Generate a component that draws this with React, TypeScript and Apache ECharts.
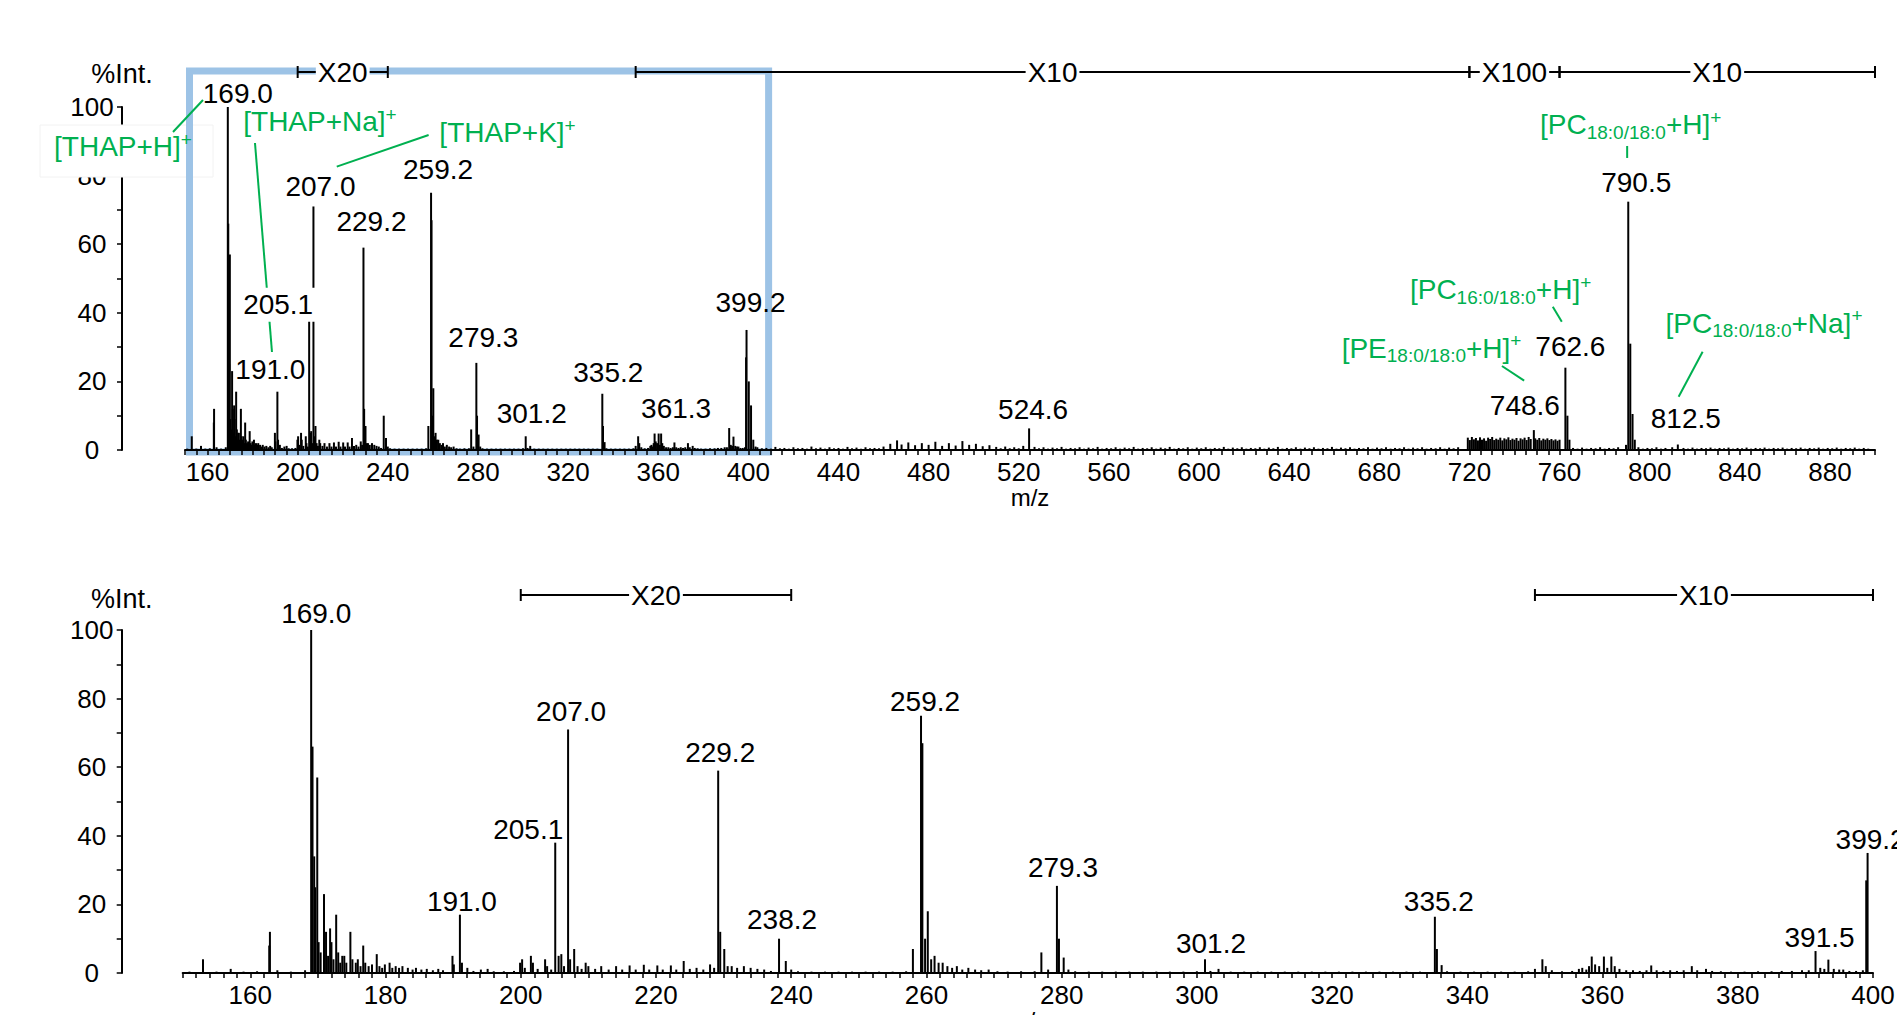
import React, { useEffect, useRef } from 'react';
import * as echarts from 'echarts';

const FONT = '"Liberation Sans", Arial, Helvetica, sans-serif';
const GREEN = '#00B050';
const BLUE = '#9DC3E6';

// ---------- data: [m/z, %Int.] ----------
const lowMassPeaks: [number, number][] = [
  [151.0, 0.4], [153.0, 4.0], [155.0, 0.4], [157.1, 1.2], [159.0, 0.4], [161.0, 0.5], [162.8, 8], [162.9, 12], [164.0, 0.8], [166.0, 0.4], [168.1, 0.8],
  [169.0, 100], [169.2, 66], [169.45, 34], [169.6, 25], [169.9, 57], [170.1, 9], [170.4, 6], [170.9, 23], [171.2, 12], [171.5, 5], [171.8, 13], [172.0, 9],
  [172.3, 4], [172.7, 17], [173.0, 6], [173.3, 3], [173.6, 5], [173.9, 5], [174.2, 3], [174.8, 12], [175.1, 4], [175.6, 3], [175.9, 4], [176.3, 2],
  [176.7, 8], [177.0, 3], [177.5, 2], [178.0, 2.5], [178.7, 5.5], [179.1, 2], [179.5, 1.5], [179.9, 2.5], [180.6, 3], [181.0, 1.5], [181.5, 2], [182.0, 1.5],
  [182.5, 2], [183.3, 1.5], [184.0, 1], [184.5, 1.5], [185.3, 1], [186.1, 1.2], [187.0, 0.8], [187.8, 1.2], [188.5, 0.8], [189.9, 5], [190.1, 2.5],
  [191.0, 17], [191.3, 3], [192.1, 1.5], [193.0, 0.6], [194.1, 1], [195.1, 1.2], [196.0, 0.5], [197.5, 0.5], [199.0, 0.6], [199.9, 3], [200.2, 4],
  [200.6, 1.5], [201.5, 5], [201.8, 3], [202.5, 1.2], [203.6, 4], [203.9, 2], [204.5, 1], [205.1, 38], [205.6, 5], [206.0, 5.5], [206.4, 2], [207.0, 71],
  [207.3, 4], [207.9, 7], [208.4, 2], [209.0, 1.2], [209.6, 3], [210.0, 2], [211.0, 1.2], [211.9, 2], [213.0, 1], [214.1, 2], [215.0, 1], [216.1, 2.2],
  [217.0, 1], [218.2, 2.4], [219.0, 1], [220.2, 2.2], [221.0, 1], [222.2, 2.2], [223.0, 1], [224.1, 3.5], [225.0, 1.2], [226.0, 1.5], [227.0, 1],
  [228.0, 2.5], [228.6, 1.5], [229.2, 59], [229.5, 12], [230.1, 7], [230.6, 2], [231.2, 2], [232.0, 1.5], [233.0, 2], [234.0, 1.5], [235.0, 1.2],
  [236.0, 1], [237.0, 0.6], [238.2, 10], [239.2, 3.5], [240.0, 1], [241.0, 0.5], [243.0, 0.4], [245.0, 0.4], [247.0, 0.4], [249.0, 0.4], [251.0, 0.4],
  [253.0, 0.4], [255.0, 0.4], [257.0, 0.5], [258.0, 7], [259.2, 75], [259.4, 67], [259.8, 10], [260.2, 18], [260.7, 4], [261.2, 5], [261.8, 3],
  [262.4, 3], [263.1, 2], [263.8, 1.5], [264.5, 2], [265.3, 1], [266.2, 1.5], [267.2, 1], [268.1, 0.8], [269.2, 1], [270.5, 0.5], [272.0, 0.4],
  [274.0, 0.5], [276.0, 0.5], [277.0, 6], [278.0, 1], [279.3, 25.4], [279.6, 10], [280.3, 4.5], [281.0, 1], [282.0, 0.5], [284.0, 0.4], [286.0, 0.4],
  [288.0, 0.4], [290.0, 0.4], [292.0, 0.4], [294.0, 0.4], [296.0, 0.4], [298.0, 0.4], [300.0, 0.5], [301.2, 4], [302.0, 0.6], [303.2, 1.2], [305.0, 0.4],
  [307.0, 0.4], [309.0, 0.4], [311.0, 0.4], [313.0, 0.4], [315.0, 0.4], [317.0, 0.4], [319.0, 0.4], [321.0, 0.4], [323.0, 0.4], [325.0, 0.4], [327.0, 0.4],
  [329.0, 0.4], [331.0, 0.4], [333.0, 0.4], [335.2, 16.4], [335.5, 7], [336.2, 2.3], [337.0, 0.5], [339.0, 0.4], [341.0, 0.4], [343.0, 0.4], [345.0, 0.4],
  [347.0, 0.4], [349.0, 0.5], [350.0, 1.2], [351.1, 4], [351.6, 2], [352.5, 0.8], [354.0, 0.5], [355.5, 0.6], [356.5, 1.2], [357.0, 1.5], [357.6, 1],
  [358.0, 2], [358.4, 4.8], [358.9, 2.5], [359.5, 2], [360.2, 4.8], [360.7, 1.5], [361.3, 4.8], [361.8, 2], [362.5, 1.2], [363.5, 0.8], [364.5, 0.8],
  [365.5, 0.6], [366.5, 0.8], [367.2, 2.2], [368.0, 0.8], [369.0, 0.6], [370.0, 0.8], [371.0, 0.6], [372.0, 0.8], [373.2, 2], [374.0, 0.8], [375.3, 1.2],
  [376.2, 0.6], [377.5, 0.5], [379.0, 0.4], [381.0, 0.4], [383.0, 0.5], [385.0, 0.5], [386.5, 0.6], [388.0, 0.6], [389.5, 0.8], [390.5, 0.8], [391.5, 6.4],
  [392.2, 1.5], [392.8, 1.2], [393.4, 3.9], [394.2, 1.2], [395.0, 1], [395.6, 1], [396.5, 0.6], [397.5, 0.6], [398.5, 0.8], [399.0, 27], [399.2, 35],
  [400.2, 20], [401.2, 13], [402.2, 3], [403.2, 1],
];

const highMassPeaks: [number, number][] = [
  [404, 0.8], [406, 0.5], [408, 0.6], [410, 0.4], [412, 0.9], [414, 0.5], [416, 0.6], [418, 0.4], [420, 0.8], [422, 0.5], [424, 0.6], [426, 0.4],
  [428, 1.0], [430, 0.5], [432, 0.7], [434, 0.4], [436, 0.8], [438, 0.5], [440, 0.6], [442, 0.4], [444, 0.9], [446, 0.5], [448, 0.7], [450, 0.4],
  [452, 0.8], [454, 0.5], [456, 0.6], [458, 0.5], [460, 1.0], [463, 1.8], [466, 2.8], [468, 1.6], [471, 2.2], [474, 1.4], [477, 2.0], [480, 1.5],
  [483, 2.4], [486, 1.2], [489, 2.0], [492, 1.3], [495, 2.6], [498, 1.5], [501, 1.8], [504, 1.1], [507, 1.4], [510, 0.9], [512, 0.5], [514, 1.0],
  [516, 0.5], [518, 0.8], [520, 0.5], [522, 1.2], [524.6, 6.3], [527, 0.9], [529, 0.5], [531, 0.8], [533, 0.4], [535, 0.7], [537, 0.5], [539, 0.9],
  [541, 0.4], [543, 0.6], [545, 0.5], [547, 0.8], [549, 0.4], [551, 0.7], [553, 0.5], [555, 0.9], [557, 0.4], [559, 0.6], [561, 0.5], [563, 0.8],
  [565, 0.4], [567, 0.7], [569, 0.5], [571, 0.9], [573, 0.4], [575, 0.6], [577, 0.5], [579, 0.8], [581, 0.4], [583, 0.7], [585, 0.5], [587, 0.9],
  [589, 0.4], [591, 0.6], [593, 0.5], [595, 0.8], [597, 0.4], [599, 0.7], [601, 0.5], [603, 0.8], [605, 0.4], [607, 0.6], [609, 0.5], [611, 0.9],
  [613, 0.4], [615, 0.7], [617, 0.5], [619, 0.8], [621, 0.4], [623, 0.6], [625, 0.5], [627, 0.8], [629, 0.4], [631, 0.7], [633, 0.5], [635, 0.9],
  [637, 0.4], [639, 0.6], [641, 0.5], [643, 0.8], [645, 0.4], [647, 0.7], [649, 0.5], [651, 0.8], [653, 0.4], [655, 0.6], [657, 0.5], [659, 0.9],
  [661, 0.4], [663, 0.7], [665, 0.5], [667, 0.8], [669, 0.4], [671, 0.6], [673, 0.5], [675, 0.8], [677, 0.4], [679, 0.7], [681, 0.5], [683, 0.8],
  [685, 0.4], [687, 0.6], [689, 0.5], [691, 0.8], [693, 0.4], [695, 0.7], [697, 0.5], [699, 0.8], [701, 0.4], [703, 0.6], [705, 0.5], [707, 0.8],
  [709, 0.4], [711, 0.7], [713, 0.5], [715, 0.8],
  [719.3, 3.6], [720.2, 2.9], [721.1, 3.8], [722.0, 3.1], [722.9, 3.5], [723.8, 2.8], [724.7, 3.7], [725.6, 3.0], [726.5, 3.4], [727.4, 2.7],
  [728.3, 3.6], [729.2, 3.2], [730.1, 3.8], [731.0, 2.9], [731.9, 3.3], [732.8, 3.0], [733.7, 3.6], [734.6, 2.8], [735.5, 3.4], [736.4, 3.1],
  [737.3, 3.7], [738.2, 2.9], [739.1, 3.3], [740.0, 3.0], [740.9, 3.5], [741.8, 2.7], [742.7, 3.4], [743.6, 3.1], [744.5, 3.6], [745.4, 2.9],
  [746.3, 3.8], [747.2, 3.2], [748.6, 5.8], [749.2, 3.4], [750.1, 3.0], [751.0, 3.5], [751.9, 2.8], [752.8, 3.3], [753.7, 3.0], [754.6, 3.4],
  [755.5, 2.9], [756.4, 3.2], [757.3, 2.8], [758.2, 3.1], [759.1, 2.7], [760.0, 3.0],
  [762.6, 24], [763.5, 10], [764.4, 3], [766, 0.6], [768, 0.4], [770, 0.7], [772, 0.4], [774, 0.6], [776, 0.5], [778, 0.8], [780, 0.4], [782, 0.6],
  [784, 0.5], [786, 0.8], [789.5, 1.5], [790.5, 72.4], [791.4, 31], [792.4, 10.5], [793.4, 3], [795, 0.8], [797, 0.4], [799, 0.6], [801, 0.5],
  [803, 0.8], [805, 0.4], [807, 0.6], [810, 0.8], [812.5, 1.6], [815, 0.6], [817, 0.4], [819, 0.7], [821, 0.4], [823, 0.6], [825, 0.5], [827, 0.7],
  [829, 0.4], [831, 0.6], [833, 0.5], [835, 0.7], [837, 0.4], [839, 0.6], [841, 0.5], [843, 0.7], [845, 0.4], [847, 0.6], [849, 0.5], [851, 0.7],
  [853, 0.4], [855, 0.6], [857, 0.5], [859, 0.7], [861, 0.4], [863, 0.6], [865, 0.5], [867, 0.7], [869, 0.4], [871, 0.6], [873, 0.5], [875, 0.7],
  [877, 0.4], [879, 0.6], [881, 0.5], [883, 0.7], [885, 0.4], [887, 0.6], [889, 0.5], [891, 0.7], [893, 0.4], [895, 0.6], [897, 0.4],
];

const allPeaks = lowMassPeaks.concat(highMassPeaks);

const topRange = [150, 900];
const bottomRange = [150, 400];
const topLabelStep = 40;
const topTickStep = 5;
const bottomLabelStep = 20;
const bottomTickStep = 2;
const yLabelStep = 20;
const yTickStep = 10;

const topPeakLabels = ['169.0', '191.0', '205.1', '207.0', '229.2', '259.2', '279.3', '301.2', '335.2', '361.3', '399.2', '524.6', '748.6', '762.6', '790.5', '812.5'];
const bottomPeakLabels = ['169.0', '191.0', '205.1', '207.0', '229.2', '238.2', '259.2', '279.3', '301.2', '335.2', '391.5', '399.2'];

const topScaleBars: [number, number, string][] = [[200, 240, 'X20'], [350, 720, 'X10'], [720, 760, 'X100'], [760, 900, 'X10']];
const bottomScaleBars: [number, number, string][] = [[200, 240, 'X20'], [350, 400, 'X10']];
const zoomWindow: [number, number] = [152, 409];

const ionTexts = [
  '{m|[THAP+H]}{sup|+}',
  '{m|[THAP+Na]}{sup|+}',
  '{m|[THAP+K]}{sup|+}',
  '{m|[PC}{sub|18:0/18:0}{m|+H]}{sup|+}',
  '{m|[PC}{sub|16:0/18:0}{m|+H]}{sup|+}',
  '{m|[PE}{sub|18:0/18:0}{m|+H]}{sup|+}',
  '{m|[PC}{sub|18:0/18:0}{m|+Na]}{sup|+}',
];
const ionAnchors = ['169.0', '191.0', '207.0', '790.5', '762.6', '748.6', '812.5'];

// ---------- layout (pixel nudges relative to peak tops) ----------
const topLabelShift: Record<string, [number, number]> = {
  '169.0': [10, -14], '191.0': [-7, -22], '205.1': [-31, -15], '207.0': [7, -20], '229.2': [8, -26], '259.2': [7, -23],
  '279.3': [7, -25], '301.2': [6, -23], '335.2': [6, -21], '361.3': [15, -25], '399.2': [4, -27], '524.6': [4, -19],
  '748.6': [-9, -25], '762.6': [5, -21], '790.5': [8, -19], '812.5': [8, -26],
};
const bottomLabelShift: Record<string, [number, number]> = {
  '169.0': [5, -17], '191.0': [2, -13], '205.1': [-27, -13], '207.0': [3, -18], '229.2': [2, -18], '238.2': [3, -19],
  '259.2': [4, -14], '279.3': [6, -18], '301.2': [6, -16], '335.2': [4, -15], '391.5': [4, -14], '399.2': [3, -13],
};
const whiteBackedLabels = ['205.1'];
const ionLayout: { text: [number, number]; line: [number, number, number, number] }[] = [
  { text: [-104.8, 39.7], line: [-54.8, 25, -24.8, -7] },
  { text: [42.6, -269.7], line: [-22.4, -248.7, -5.4, -39.7] },
  { text: [194.1, -73.5], line: [115.2, -71.5, 23.3, -39.8] },
  { text: [2.4, -76.7], line: [-1.1, -55.7, -1.1, -43.7] },
  { text: [-64.8, -77.7], line: [-12.6, -61, -3.6, -46] },
  { text: [-102.3, -82.1], line: [-31.9, -64.1, -9.7, -49.4] },
  { text: [86.2, -121.5], line: [24.8, -92.8, 0.8, -47.8] },
];
const ionBackdrop = { anchor: '169.0', rect: [-187.8, 18, 173, 52] };

const intensityAt = (mz: number) => {
  let best = allPeaks[0];
  for (const p of allPeaks) if (Math.abs(p[0] - mz) < Math.abs(best[0] - mz)) best = p;
  return best[1];
};

const inRange = (peaks: [number, number][], range: number[]) => peaks.filter((p) => p[0] >= range[0] && p[0] <= range[1]);

const axisText = { fontFamily: FONT, color: '#000' };

function xAxisFor(gridIndex: number, range: number[], labelStep: number, tickStep: number) {
  return {
    type: 'value', gridIndex, min: range[0], max: range[1], interval: tickStep, z: 2,
    name: 'm/z', nameLocation: 'middle', nameGap: 34,
    nameTextStyle: { ...axisText, fontSize: 24 },
    axisLine: { show: true, onZero: false, lineStyle: { color: '#000', width: 2 } },
    axisTick: { show: true, length: 5, lineStyle: { color: '#000', width: 1.5 } },
    axisLabel: {
      ...axisText, fontSize: 26, margin: 9, showMinLabel: true, showMaxLabel: true,
      formatter: (v: number) => (Math.round(v) % labelStep === 0 ? String(Math.round(v)) : ''),
    },
    splitLine: { show: false },
  };
}

function yAxisFor(gridIndex: number, offset: number, nameGap: number) {
  return {
    type: 'value', gridIndex, min: 0, max: 100, interval: yTickStep, offset, position: 'left',
    name: '%Int.', nameLocation: 'end', nameGap,
    nameTextStyle: { ...axisText, fontSize: 27, align: 'center', verticalAlign: 'bottom' },
    axisLine: { show: true, lineStyle: { color: '#000', width: 2 } },
    axisTick: { show: true, length: 5, lineStyle: { color: '#000', width: 1.5 } },
    axisLabel: {
      ...axisText, fontSize: 26, margin: 30, align: 'center',
      formatter: (v: number) => (Math.round(v) % yLabelStep === 0 ? String(Math.round(v)) : ''),
    },
    splitLine: { show: false },
  };
}

function peakSeries(idx: number, data: [number, number][]) {
  return {
    type: 'custom', xAxisIndex: idx, yAxisIndex: idx, clip: true, z: 3, silent: true,
    encode: { x: 0, y: 1 }, data,
    renderItem: (params: any, api: any) => {
      const m = api.value(0);
      const v = api.value(1);
      const a = api.coord([m, 0]);
      const b = api.coord([m, v]);
      return { type: 'line', shape: { x1: a[0], y1: a[1], x2: b[0], y2: b[1] }, style: { stroke: '#000', lineWidth: 2 } };
    },
  };
}

function labelSeries(idx: number, labels: string[], shifts: Record<string, [number, number]>) {
  return {
    type: 'custom', xAxisIndex: idx, yAxisIndex: idx, z: 5, silent: true,
    encode: { x: 0, y: 1 },
    data: labels.map((t) => [parseFloat(t), intensityAt(parseFloat(t))]),
    renderItem: (params: any, api: any) => {
      const t = labels[params.dataIndex];
      const p = api.coord([api.value(0), api.value(1)]);
      const s = shifts[t] || [4, -18];
      const bg = whiteBackedLabels.includes(t) && idx === 0;
      return {
        type: 'text', x: p[0] + s[0], y: p[1] + s[1],
        style: {
          text: t, fill: '#000', fontSize: 28, fontFamily: FONT, align: 'center', verticalAlign: 'middle',
          backgroundColor: bg ? '#ffffff' : undefined, padding: bg ? [3, 3] : 0,
        },
      };
    },
  };
}

function scaleBarSeries(idx: number, bars: [number, number, string][]) {
  return {
    type: 'custom', xAxisIndex: idx, yAxisIndex: idx, z: 4, silent: true,
    encode: { x: [0, 1], y: 2 },
    data: bars.map((b) => [b[0], b[1], 100]),
    renderItem: (params: any, api: any) => {
      const bar = bars[params.dataIndex];
      const a = api.coord([bar[0], 100]);
      const b = api.coord([bar[1], 100]);
      const y = a[1] - 35;
      const cap = 6;
      return {
        type: 'group',
        children: [
          { type: 'line', shape: { x1: a[0], y1: y, x2: b[0], y2: y }, style: { stroke: '#000', lineWidth: 2 } },
          { type: 'line', shape: { x1: a[0], y1: y - cap, x2: a[0], y2: y + cap }, style: { stroke: '#000', lineWidth: 2 } },
          { type: 'line', shape: { x1: b[0], y1: y - cap, x2: b[0], y2: y + cap }, style: { stroke: '#000', lineWidth: 2 } },
          {
            type: 'text', x: (a[0] + b[0]) / 2, y,
            style: {
              text: bar[2], fill: '#000', fontSize: 28, fontFamily: FONT, align: 'center', verticalAlign: 'middle',
              backgroundColor: '#ffffff', padding: [2, 2],
            },
          },
        ],
      };
    },
  };
}

const richStyles = {
  m: { fontSize: 28, fontFamily: FONT, fill: GREEN, color: GREEN, lineHeight: 34, verticalAlign: 'middle' },
  sub: { fontSize: 19, fontFamily: FONT, fill: GREEN, color: GREEN, lineHeight: 22, verticalAlign: 'bottom' },
  sup: { fontSize: 19, fontFamily: FONT, fill: GREEN, color: GREEN, lineHeight: 19, verticalAlign: 'top' },
};

function buildOption() {
  const anchorData = ionAnchors.map((t) => [parseFloat(t), intensityAt(parseFloat(t))]);
  return {
    animation: false,
    backgroundColor: '#ffffff',
    grid: [
      { left: 185, top: 107, width: 1690, height: 343, containLabel: false, outerBoundsMode: 'none' },
      { left: 182.7, top: 630, width: 1690.3, height: 343, containLabel: false, outerBoundsMode: 'none' },
    ],
    xAxis: [xAxisFor(0, topRange, topLabelStep, topTickStep), xAxisFor(1, bottomRange, bottomLabelStep, bottomTickStep)],
    yAxis: [yAxisFor(0, 63, 20), yAxisFor(1, 61, 18)],
    series: [
      // white box behind [THAP+H]+
      {
        type: 'custom', xAxisIndex: 0, yAxisIndex: 0, z: 0.5, silent: true, encode: { x: 0, y: 1 },
        data: [[parseFloat(ionBackdrop.anchor), intensityAt(parseFloat(ionBackdrop.anchor))]],
        renderItem: (params: any, api: any) => {
          const p = api.coord([api.value(0), api.value(1)]);
          const r = ionBackdrop.rect;
          return { type: 'rect', shape: { x: p[0] + r[0], y: p[1] + r[1], width: r[2], height: r[3] }, style: { fill: '#ffffff', stroke: '#f2f2f2', lineWidth: 1 } };
        },
      },
      // blue zoom-window frame
      {
        type: 'custom', xAxisIndex: 0, yAxisIndex: 0, z: 1, silent: true, encode: { x: [0, 1], y: [2, 3] },
        data: [[zoomWindow[0], zoomWindow[1], 0, 100]],
        renderItem: (params: any, api: any) => {
          const a = api.coord([api.value(0), 0]);
          const b = api.coord([api.value(1), 0]);
          const t = api.coord([api.value(0), 100])[1] - 36;
          return { type: 'rect', shape: { x: a[0], y: t, width: b[0] - a[0], height: a[1] + 2 - t }, style: { fill: 'transparent', stroke: BLUE, lineWidth: 7 } };
        },
      },
      peakSeries(0, inRange(allPeaks, topRange)),
      peakSeries(1, inRange(lowMassPeaks, bottomRange)),
      scaleBarSeries(0, topScaleBars),
      scaleBarSeries(1, bottomScaleBars),
      // leader lines
      {
        type: 'custom', xAxisIndex: 0, yAxisIndex: 0, z: 4, silent: true, encode: { x: 0, y: 1 }, data: anchorData,
        renderItem: (params: any, api: any) => {
          const p = api.coord([api.value(0), api.value(1)]);
          const l = ionLayout[params.dataIndex].line;
          return { type: 'line', shape: { x1: p[0] + l[0], y1: p[1] + l[1], x2: p[0] + l[2], y2: p[1] + l[3] }, style: { stroke: GREEN, lineWidth: 2 } };
        },
      },
      labelSeries(0, topPeakLabels, topLabelShift),
      labelSeries(1, bottomPeakLabels, bottomLabelShift),
      // ion annotations
      {
        type: 'custom', xAxisIndex: 0, yAxisIndex: 0, z: 6, silent: true, encode: { x: 0, y: 1 }, data: anchorData,
        renderItem: (params: any, api: any) => {
          const p = api.coord([api.value(0), api.value(1)]);
          const o = ionLayout[params.dataIndex].text;
          return {
            type: 'text', x: p[0] + o[0], y: p[1] + o[1],
            style: { text: ionTexts[params.dataIndex], rich: richStyles, fill: GREEN, fontSize: 28, fontFamily: FONT, align: 'center', verticalAlign: 'middle' },
          };
        },
      },
    ],
  };
}

export default function App() {
  const ref = useRef<HTMLDivElement>(null);
  useEffect(() => {
    if (!ref.current) return;
    const chart = echarts.init(ref.current, undefined, { renderer: 'svg' });
    chart.setOption(buildOption() as any);
    return () => chart.dispose();
  }, []);
  return <div ref={ref} style={{ position: 'fixed', left: 0, top: 0, width: 1897, height: 1015, background: '#fff' }} />;
}
